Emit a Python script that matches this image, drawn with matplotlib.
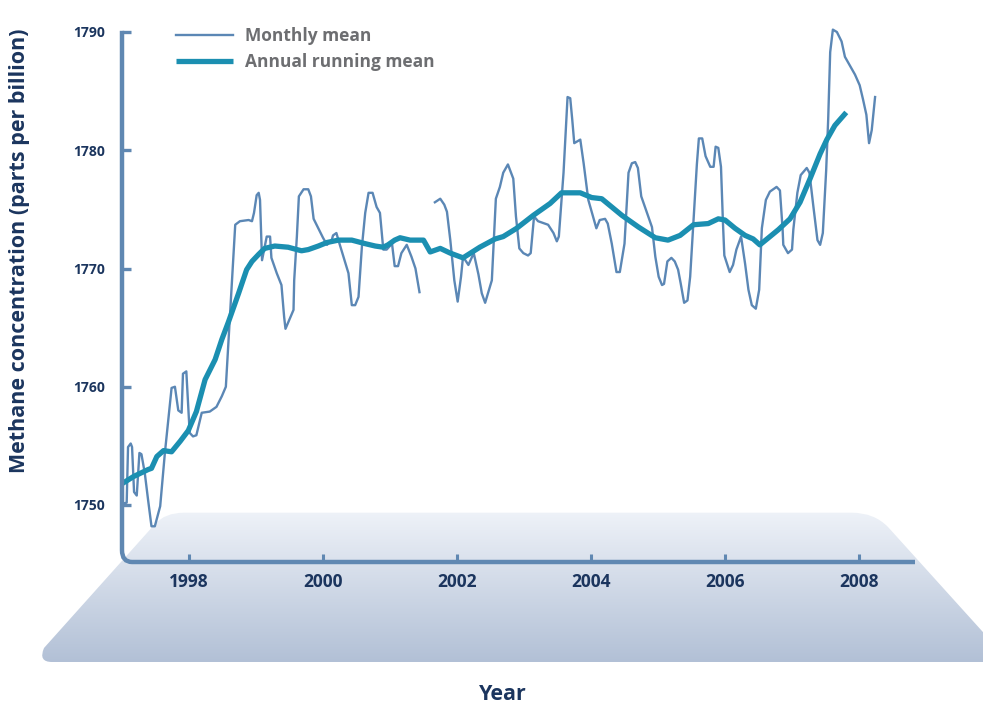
import numpy as np
import matplotlib
matplotlib.use("Agg")
import matplotlib.pyplot as plt
from matplotlib.path import Path
from matplotlib.patches import PathPatch

plt.rcParams['font.family'] = ['Open Sans', 'DejaVu Sans']

# monthly mean (year, ppb); NaN marks the data gap in 2001
monthly_year = [
    1997.00, 1997.07, 1997.09, 1997.13, 1997.15, 1997.18, 1997.22, 1997.26, 1997.29, 1997.34,
    1997.39, 1997.44, 1997.49, 1997.57, 1997.64, 1997.74, 1997.79, 1997.84, 1997.89, 1997.91,
    1997.96, 1998.01, 1998.06, 1998.11, 1998.19, 1998.31, 1998.41, 1998.49, 1998.55, 1998.69,
    1998.76, 1998.89, 1998.94, 1998.97, 1999.01, 1999.04, 1999.06, 1999.09, 1999.16, 1999.21,
    1999.23, 1999.31, 1999.38, 1999.42, 1999.44, 1999.56, 1999.57, 1999.61, 1999.64, 1999.71,
    1999.78, 1999.82, 1999.86, 1999.93, 2000.00, 2000.06, 2000.13, 2000.15, 2000.20, 2000.23,
    2000.30, 2000.38, 2000.43, 2000.48, 2000.53, 2000.58, 2000.63, 2000.68, 2000.74, 2000.80,
    2000.85, 2000.90, 2000.95, 2001.03, 2001.07, 2001.12, 2001.17, 2001.25, 2001.32, 2001.38,
    2001.44, 2001.55,
    2001.67, 2001.75, 2001.81, 2001.85, 2001.90, 2001.96, 2002.01, 2002.06, 2002.09, 2002.17,
    2002.25, 2002.32, 2002.37, 2002.42, 2002.52, 2002.58, 2002.64, 2002.69, 2002.76, 2002.84,
    2002.88, 2002.93, 2002.99, 2003.06, 2003.10, 2003.15, 2003.21, 2003.36, 2003.44, 2003.49,
    2003.52, 2003.59, 2003.65, 2003.69, 2003.72, 2003.75, 2003.84, 2003.89, 2003.96, 2004.03,
    2004.08, 2004.13, 2004.21, 2004.25, 2004.31, 2004.38, 2004.43, 2004.50, 2004.56, 2004.61,
    2004.66, 2004.70, 2004.75, 2004.83, 2004.91, 2004.96, 2005.01, 2005.06, 2005.09, 2005.14,
    2005.20, 2005.25, 2005.30, 2005.34, 2005.39, 2005.44, 2005.48, 2005.53, 2005.58, 2005.61,
    2005.66, 2005.71, 2005.78, 2005.83, 2005.86, 2005.90, 2005.94, 2005.97, 2005.99, 2006.03,
    2006.07, 2006.12, 2006.17, 2006.24, 2006.30, 2006.35, 2006.40, 2006.46, 2006.51, 2006.55,
    2006.61, 2006.67, 2006.77, 2006.82, 2006.86, 2006.87, 2006.94, 2007.00, 2007.02, 2007.08,
    2007.13, 2007.22, 2007.26, 2007.32, 2007.38, 2007.42, 2007.46, 2007.51, 2007.54, 2007.57,
    2007.61, 2007.67, 2007.74, 2007.79, 2007.87, 2007.94, 2008.01, 2008.06, 2008.11, 2008.15,
    2008.19, 2008.24,
]
monthly_ppb = [
    1750.1, 1750.2, 1754.9, 1755.2, 1754.9, 1751.1, 1750.8, 1754.4, 1754.3, 1752.7,
    1750.4, 1748.2, 1748.2, 1749.9, 1754.4, 1759.9, 1760.0, 1758.0, 1757.8, 1761.1,
    1761.3, 1756.1, 1755.8, 1755.9, 1757.8, 1757.9, 1758.3, 1759.2, 1760.0, 1773.7,
    1774.0, 1774.1, 1774.0, 1774.7, 1776.2, 1776.4, 1775.8, 1770.7, 1772.7, 1772.7,
    1770.9, 1769.6, 1768.6, 1765.9, 1764.9, 1766.5, 1769.0, 1772.7, 1776.1, 1776.7,
    1776.7, 1776.1, 1774.2, 1773.4, 1772.6, 1772.0, 1772.4, 1772.8, 1773.0, 1772.4,
    1771.1, 1769.6, 1766.9, 1766.9, 1767.6, 1771.8, 1774.7, 1776.4, 1776.4, 1775.2,
    1774.7, 1771.6, 1771.6, 1772.1, 1770.2, 1770.2, 1771.3, 1772.0, 1771.0, 1770.0,
    1768.0, np.nan,
    1775.6, 1775.9, 1775.4, 1774.8, 1772.4, 1769.0, 1767.2, 1769.3, 1771.0, 1770.3,
    1771.3, 1769.5, 1767.9, 1767.1, 1769.0, 1775.9, 1776.9, 1778.1, 1778.8, 1777.6,
    1774.4, 1771.7, 1771.3, 1771.1, 1771.3, 1774.4, 1774.0, 1773.7, 1773.0, 1772.3,
    1772.7, 1778.1, 1784.5, 1784.4, 1782.6, 1780.6, 1780.9, 1778.9, 1775.8, 1774.4,
    1773.4, 1774.1, 1774.2, 1773.8, 1772.1, 1769.7, 1769.7, 1772.1, 1778.1, 1778.9,
    1779.0, 1778.5, 1776.1, 1774.8, 1773.5, 1771.0, 1769.3, 1768.6, 1768.7, 1770.6,
    1770.9, 1770.6, 1769.9, 1768.7, 1767.1, 1767.3, 1769.3, 1774.1, 1778.8, 1781.0,
    1781.0, 1779.5, 1778.6, 1778.6, 1780.3, 1780.2, 1778.6, 1773.8, 1771.1, 1770.4,
    1769.7, 1770.3, 1771.6, 1772.7, 1770.4, 1768.2, 1766.9, 1766.6, 1768.2, 1773.4,
    1775.8, 1776.5, 1776.9, 1776.6, 1773.3, 1772.0, 1771.3, 1771.6, 1773.3, 1776.4,
    1777.9, 1778.5, 1778.1, 1775.2, 1772.4, 1772.0, 1773.0, 1778.3, 1782.6, 1788.3,
    1790.2, 1790.0, 1789.2, 1787.9, 1787.1, 1786.4, 1785.5, 1784.3, 1783.0, 1780.6,
    1781.7, 1784.5,
]

# annual running mean (year, ppb)
annual_year = [
    1997.00, 1997.17, 1997.39, 1997.44, 1997.52, 1997.62, 1997.74, 1997.87, 1997.99, 1998.11,
    1998.24, 1998.39, 1998.49, 1998.59, 1998.74, 1998.86, 1998.94, 1999.04, 1999.13, 1999.28,
    1999.48, 1999.61, 1999.68, 1999.78, 1999.93, 2000.06, 2000.23, 2000.43, 2000.63, 2000.78,
    2000.90, 2000.97, 2001.07, 2001.15, 2001.30, 2001.50, 2001.60, 2001.75, 2001.90, 2002.09,
    2002.34, 2002.57, 2002.69, 2002.89, 2003.14, 2003.39, 2003.56, 2003.84, 2004.01, 2004.16,
    2004.46, 2004.71, 2004.96, 2005.15, 2005.33, 2005.53, 2005.75, 2005.90, 2006.00, 2006.15,
    2006.30, 2006.42, 2006.52, 2006.65, 2006.80, 2006.97, 2007.12, 2007.27, 2007.42, 2007.52,
    2007.64, 2007.81,
]
annual_ppb = [
    1751.8, 1752.4, 1753.0, 1753.1, 1754.1, 1754.6, 1754.5, 1755.4, 1756.3, 1757.9,
    1760.6, 1762.3, 1764.0, 1765.5, 1767.9, 1769.9, 1770.6, 1771.2, 1771.7, 1771.9,
    1771.8, 1771.6, 1771.5, 1771.6, 1771.9, 1772.2, 1772.4, 1772.4, 1772.1, 1771.9,
    1771.8, 1772.0, 1772.4, 1772.6, 1772.4, 1772.4, 1771.4, 1771.7, 1771.3, 1770.9,
    1771.8, 1772.5, 1772.7, 1773.4, 1774.5, 1775.5, 1776.4, 1776.4, 1776.0, 1775.9,
    1774.5, 1773.5, 1772.6, 1772.4, 1772.8, 1773.7, 1773.8, 1774.2, 1774.1, 1773.4,
    1772.8, 1772.5, 1772.0, 1772.6, 1773.3, 1774.2, 1775.6, 1777.6, 1779.7, 1780.9,
    1782.1, 1783.2,
]

x_ticks = [1998, 2000, 2002, 2004, 2006, 2008]
y_ticks = [1750, 1760, 1770, 1780, 1790]

axis_color = '#6088b2'
monthly_color = '#5b87b5'
annual_color = '#1b8fb1'
navy = '#1b355e'
legend_grey = '#6d6e71'

W, H = 983, 707
fig = plt.figure(figsize=(W / 100, H / 100), dpi=100)

# background "floor" with vertical gradient (pixel coordinates)
bg = fig.add_axes([0, 0, 1, 1])
bg.set_xlim(0, W)
bg.set_ylim(H, 0)
bg.axis('off')
verts = [(44, 648), (155, 524), (165, 512.7), (184, 512.7), (852, 512.7), (874, 512.7),
         (888, 527), (1010, 662), (52, 662), (38, 662), (44, 648), (44, 648)]
codes = [Path.MOVETO, Path.LINETO, Path.CURVE3, Path.CURVE3, Path.LINETO, Path.CURVE3,
         Path.CURVE3, Path.LINETO, Path.LINETO, Path.CURVE3, Path.CURVE3, Path.CLOSEPOLY]
floor = PathPatch(Path(verts, codes), facecolor='none', edgecolor='none')
bg.add_patch(floor)
grad = np.linspace(0, 1, 256).reshape(-1, 1)
cmap = matplotlib.colors.LinearSegmentedColormap.from_list('floor', ['#eef2f8', '#b2c0d6'])
im = bg.imshow(grad, cmap=cmap, extent=[0, W, 662, 512], aspect='auto', zorder=0)
im.set_clip_path(floor)

# main plot area mapped so data lines up with the reference
left_px, right_px, top_px, bottom_px = 100, 930, 20, 570
ax = fig.add_axes([left_px / W, 1 - bottom_px / H, (right_px - left_px) / W, (bottom_px - top_px) / H])
ax.set_facecolor('none')
x0 = 1997 + (left_px - 122) / 67
x1 = 1997 + (right_px - 122) / 67
y0 = 1750 + (505 - bottom_px) / 11.825
y1 = 1750 + (505 - top_px) / 11.825
ax.set_xlim(x0, x1)
ax.set_ylim(y0, y1)

ax.plot(monthly_year, monthly_ppb, color=monthly_color, lw=1.7, label='Monthly mean', zorder=3,
        solid_joinstyle='round')
ax.plot(annual_year, annual_ppb, color=annual_color, lw=3.8, label='Annual running mean', zorder=4,
        solid_capstyle='butt')

# L-shaped axis with a rounded corner
base_y = 1750 + (505 - 562) / 11.825
ax_end = 1997 + (915 - 122) / 67
rx, ry = 0.15, 1.0
axis_path = Path([(1997, 1790.1), (1997, base_y + ry), (1997, base_y), (1997 + rx, base_y), (ax_end, base_y)],
                 [Path.MOVETO, Path.LINETO, Path.CURVE3, Path.CURVE3, Path.LINETO])
ax.add_patch(PathPatch(axis_path, facecolor='none', edgecolor=axis_color, lw=3.2, zorder=5,
                       capstyle='butt'))

for s in ax.spines.values():
    s.set_visible(False)
ax.spines['left'].set_position(('data', 1997))
ax.spines['bottom'].set_position(('data', base_y))

ax.set_xticks(x_ticks)
ax.set_xticklabels([str(t) for t in x_ticks])
ax.set_yticks(y_ticks)
ax.set_yticklabels([str(t) for t in y_ticks])
ax.tick_params(axis='y', direction='in', length=6.5, width=2.4, color=axis_color, pad=12,
               labelsize=10, labelcolor=navy)
ax.tick_params(axis='x', direction='in', length=6, width=2.2, color=axis_color, pad=8,
               labelsize=12.5, labelcolor=navy)
for lab in ax.get_xticklabels() + ax.get_yticklabels():
    lab.set_fontweight('bold')

fig.text(20 / W, 1 - 251 / H, 'Methane concentration (parts per billion)', rotation=90,
         ha='center', va='center', fontsize=15.5, fontweight='bold', color=navy)
fig.text(503 / W, 1 - 695 / H, 'Year', ha='center', va='center', fontsize=15.5,
         fontweight='bold', color=navy)

leg = ax.legend(loc='upper left', bbox_to_anchor=(176 / W, 1 - 27 / H), bbox_transform=fig.transFigure,
                frameon=False, borderpad=0, borderaxespad=0, handlelength=3.3, handletextpad=0.7,
                labelspacing=0.45, prop={'size': 12.5, 'weight': 'bold'}, labelcolor=legend_grey)

fig.savefig('out.png', dpi=100)
